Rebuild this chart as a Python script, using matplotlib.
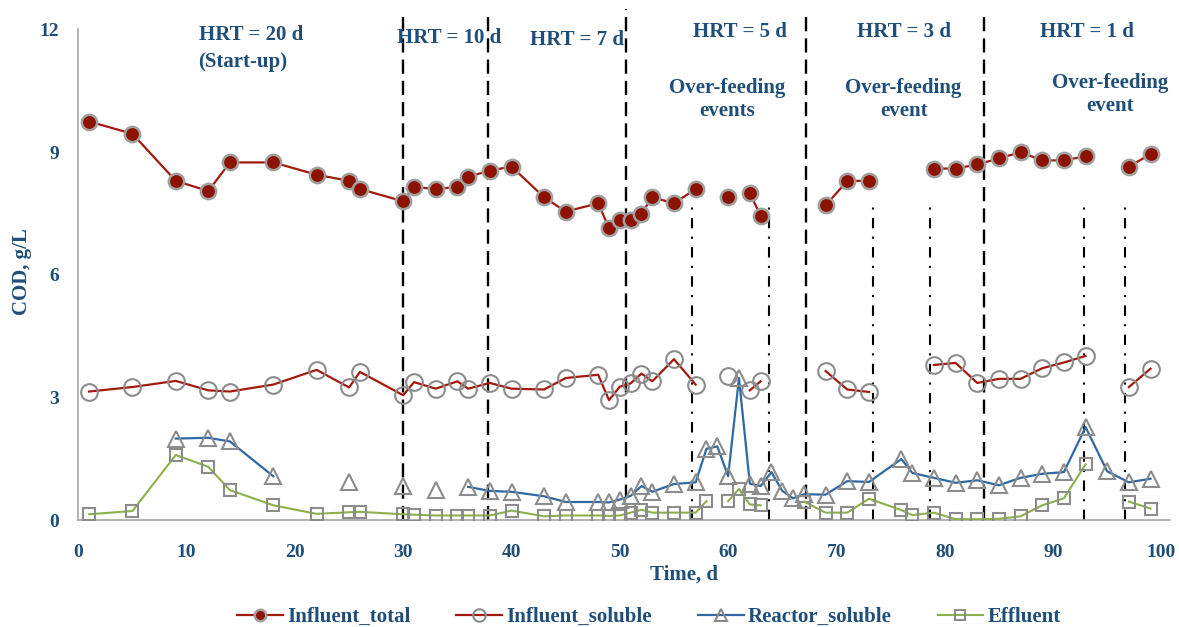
import numpy as np
import matplotlib.pyplot as plt

nan = np.nan

# Influent samples (nan breaks the line)
days_inf = [1, 5, 9, 12, 14, 18, 22, 25, 26, 30, 31, 33, 35, 36, 38, 40, 43, 45, 48, 49,
            50, 51, 52, 53, 55, 57, 58, 60, 61, 62, 63, 64, 69, 71, 73, 76, 79, 81, 83, 85,
            87, 89, 91, 93, 95, 97, 99]
influent_total = [9.75, 9.45, 8.3, 8.05, 8.75, 8.75, 8.45, 8.3, 8.1, 7.8, 8.15, 8.1, 8.15, 8.4,
                  8.55, 8.65, 7.9, 7.55, 7.75, 7.15, 7.35, 7.35, 7.5, 7.9, 7.75, 8.1, nan, 7.9,
                  nan, 8.0, 7.45, nan, 7.7, 8.3, 8.3, nan, 8.6, 8.6, 8.7, 8.85, 9.0, 8.8, 8.8,
                  8.9, nan, 8.65, 8.95]
influent_soluble = [3.15, 3.26, 3.41, 3.18, 3.15, 3.32, 3.68, 3.25, 3.63, 3.06, 3.38, 3.22, 3.4,
                    3.22, 3.36, 3.22, 3.2, 3.48, 3.56, 2.94, 3.27, 3.35, 3.59, 3.4, 3.94, 3.32,
                    nan, 3.54, nan, 3.18, 3.4, nan, 3.65, 3.2, 3.14, nan, 3.8, 3.85, 3.36, 3.46,
                    3.46, 3.72, 3.86, 4.02, nan, 3.26, 3.71]

days_reac = [9, 12, 14, 18, 20, 25, 28, 30, 32, 33, 34, 36, 38, 40, 43, 45, 48, 49, 50, 51,
             52, 53, 55, 57, 58, 59, 60, 61, 62, 63, 64, 65, 66, 67, 69, 71, 73, 76, 77, 79,
             81, 83, 85, 87, 89, 91, 93, 95, 97, 99]
reactor_soluble = [2.0, 2.02, 1.93, 1.08, nan, 0.93, nan, 0.84, nan, 0.74, nan, 0.82, 0.72, 0.7,
                   0.59, 0.45, 0.45, 0.44, 0.51, 0.6, 0.84, 0.7, 0.89, 0.93, 1.75, 1.81, 1.08,
                   3.48, 0.9, 0.84, 1.18, 0.72, 0.54, 0.64, 0.63, 0.96, 0.94, 1.5, 1.16, 1.04,
                   0.92, 0.98, 0.86, 1.04, 1.14, 1.18, 2.28, 1.2, 0.93, 1.02]

days_eff = [1, 5, 9, 12, 14, 18, 22, 25, 26, 30, 31, 33, 35, 36, 38, 40, 43, 45, 48, 49, 50,
            51, 52, 53, 55, 57, 58, 59, 60, 61, 62, 63, 64, 67, 69, 71, 73, 76, 77, 79, 81,
            83, 85, 87, 89, 91, 93, 95, 97, 99]
effluent = [0.15, 0.23, 1.6, 1.31, 0.74, 0.37, 0.16, 0.2, 0.21, 0.15, 0.14, 0.12, 0.12, 0.12,
            0.12, 0.24, 0.1, 0.12, 0.12, 0.11, 0.12, 0.19, 0.26, 0.19, 0.19, 0.19, 0.47, nan,
            0.47, 0.77, 0.39, 0.37, nan, 0.46, 0.19, 0.19, 0.53, 0.25, 0.13, 0.19, 0.03, 0.03,
            0.04, 0.1, 0.37, 0.54, 1.37, nan, 0.46, 0.29]

# HRT changes (dashed) and over-feeding events (dash-dot)
hrt_changes = [30, 37.8, 50.6, 67.2, 83.6]
hrt_tops = [12.4, 12.4, 12.5, 12.4, 12.45]
feed_events = [56.7, 63.8, 73.4, 78.6, 92.9, 96.6]
feed_top = 7.8

annotations = [
    (15.95, 11.87, "HRT = 20 d"),
    (15.2, 11.21, "(Start-up)"),
    (34.2, 11.8, "HRT = 10 d"),
    (46.05, 11.74, "HRT = 7 d"),
    (61.1, 11.94, "HRT = 5 d"),
    (59.9, 10.28, "Over-feeding\nevents"),
    (76.2, 11.94, "HRT = 3 d"),
    (76.2, 10.28, "Over-feeding\nevent"),
    (93.1, 11.94, "HRT = 1 d"),
    (95.3, 10.4, "Over-feeding\nevent"),
]

txt_color = '#1F4E79'
plt.rcParams['font.family'] = ['Liberation Serif', 'DejaVu Serif']
plt.rcParams['font.weight'] = 'bold'

fig = plt.figure(figsize=(11.79, 6.27), dpi=100)
ax = fig.add_axes([0.0664, 0.170, 0.926, 0.783])

for x, top in zip(hrt_changes, hrt_tops):
    ax.plot([x, x], [0, top], color='black', lw=1.7, ls=(0, (6, 3)), clip_on=False, zorder=1)
for x in feed_events:
    ax.plot([x, x], [0, feed_top], color='black', lw=1.5, ls=(0, (5, 4, 1, 4)), zorder=1)

ax.plot(days_inf, influent_total, color='#A11A0E', lw=1.6, marker='o', ms=11,
        mfc='#8B1300', mec='#A0A0A0', mew=1.8, label='Influent_total', zorder=3)
ax.plot(days_inf, influent_soluble, color='#A11A0E', lw=1.6, marker='o', ms=12,
        mfc='none', mec='#8C8C8C', mew=1.5, label='Influent_soluble', zorder=3)
ax.plot(days_reac, reactor_soluble, color='#2E69A3', lw=1.6, marker='^', ms=12,
        mfc='none', mec='#8C8C8C', mew=1.5, label='Reactor_soluble', zorder=3)
ax.plot(days_eff, effluent, color='#8DB04A', lw=1.5, marker='s', ms=9,
        mfc='none', mec='#8C8C8C', mew=1.5, label='Effluent', zorder=3)

for x, y, s in annotations:
    ax.text(x, y, s, ha='center', va='center', fontsize=15, fontweight='bold',
            color=txt_color, linespacing=1.2, zorder=4)

ax.set_xlim(0, 100.8)
ax.set_ylim(0, 12)
ax.set_xticks(np.arange(0, 101, 10))
ax.set_yticks(np.arange(0, 13, 3))
ax.tick_params(length=0, labelsize=14, labelcolor=txt_color)
ax.tick_params(axis='x', pad=17)
ax.tick_params(axis='y', pad=14)
for lab in ax.get_xticklabels() + ax.get_yticklabels():
    lab.set_fontweight('bold')

for side in ['top', 'right']:
    ax.spines[side].set_visible(False)
for side in ['left', 'bottom']:
    ax.spines[side].set_color('#A6A6A6')
    ax.spines[side].set_linewidth(1.2)

fig.text(684 / 1179, 1 - 575 / 627, 'Time, d', ha='center', va='center',
         fontsize=15, fontweight='bold', color=txt_color)
fig.text(22 / 1179, 1 - 272 / 627, 'COD, g/L', ha='center', va='center', rotation=90,
         fontsize=15, fontweight='bold', color=txt_color)

leg = fig.legend(loc='center', bbox_to_anchor=(649 / 1179, 1 - 617 / 627), ncol=4,
                 frameon=False, fontsize=15, handlelength=2.2, handletextpad=0.2,
                 columnspacing=2.2, markerscale=0.75)
for t in leg.get_texts():
    t.set_color(txt_color)
    t.set_fontweight('bold')

fig.savefig('out.png', dpi=100)
